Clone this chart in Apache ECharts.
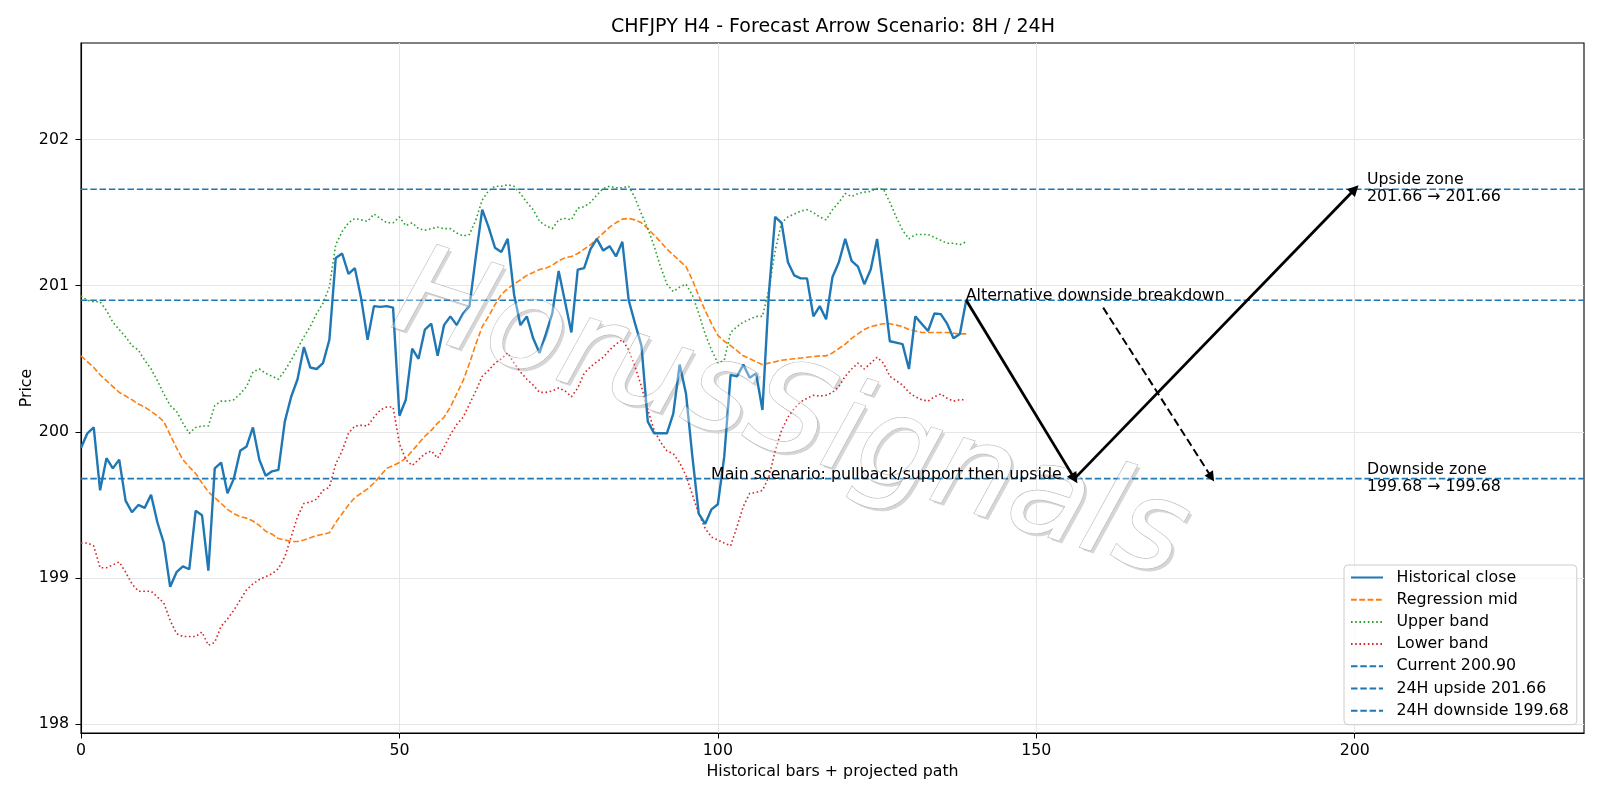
<!DOCTYPE html>
<html>
<head>
<meta charset="utf-8">
<script src="https://cdn.jsdelivr.net/npm/echarts@6/dist/echarts.min.js"></script>
<style>
  html, body { margin: 0; padding: 0; background: #fff; }
  #chartDiv { width: 1600px; height: 800px; }
</style>
</head>
<body>
<div id="chartDiv"></div>
<script>
// historical bars 0..139
var closeVals = [
	199.89, 199.99, 200.03, 199.60, 199.82, 199.75, 199.81, 199.53, 199.45, 199.50,
	199.48, 199.57, 199.38, 199.24, 198.94, 199.04, 199.08, 199.06, 199.46, 199.43,
	199.05, 199.75, 199.79, 199.58, 199.68, 199.87, 199.90, 200.03, 199.81, 199.70,
	199.73, 199.74, 200.07, 200.24, 200.36, 200.58, 200.44, 200.43, 200.47, 200.63,
	201.19, 201.22, 201.08, 201.12, 200.91, 200.63, 200.86, 200.855, 200.86, 200.85,
	200.11, 200.22, 200.57, 200.50, 200.70, 200.74, 200.52, 200.73, 200.79, 200.73,
	200.81, 200.86, 201.20, 201.52, 201.40, 201.26, 201.23, 201.32, 200.94, 200.73,
	200.79, 200.64, 200.54, 200.67, 200.81, 201.10, 200.89, 200.68, 201.11, 201.12,
	201.25, 201.32, 201.24, 201.27, 201.20, 201.30, 200.90, 200.74, 200.59, 200.07,
	199.99, 199.99, 199.99, 200.125, 200.46, 200.26, 199.83, 199.44, 199.37, 199.47,
	199.505, 199.83, 200.39, 200.38, 200.46, 200.37, 200.40, 200.15, 200.94, 201.47,
	201.43, 201.16, 201.07, 201.05, 201.05, 200.79, 200.86, 200.77, 201.06, 201.16,
	201.32, 201.17, 201.13, 201.01, 201.11, 201.32, 200.98, 200.62, 200.61, 200.60,
	200.43, 200.79, 200.74, 200.69, 200.81, 200.805, 200.74, 200.64, 200.67, 200.90
];

var midVals = [
	200.52, 200.48, 200.44, 200.39, 200.35, 200.31, 200.27, 200.245, 200.22, 200.19,
	200.17, 200.14, 200.11, 200.07, 199.98, 199.89, 199.81, 199.76, 199.715, 199.65,
	199.59, 199.55, 199.51, 199.47, 199.44, 199.42, 199.41, 199.39, 199.36, 199.32,
	199.30, 199.27, 199.26, 199.25, 199.25, 199.26, 199.275, 199.29, 199.30, 199.31,
	199.38, 199.44, 199.50, 199.55, 199.58, 199.61, 199.65, 199.70, 199.75, 199.77,
	199.79, 199.82, 199.87, 199.92, 199.97, 200.01, 200.06, 200.10, 200.17, 200.26,
	200.35, 200.47, 200.60, 200.72, 200.79, 200.87, 200.94, 200.98, 201.01, 201.04,
	201.07, 201.09, 201.11, 201.12, 201.14, 201.17, 201.19, 201.20, 201.22, 201.25,
	201.28, 201.32, 201.36, 201.40, 201.43, 201.455, 201.46, 201.45, 201.43, 201.39,
	201.345, 201.30, 201.25, 201.21, 201.17, 201.13, 201.04, 200.93, 200.83, 200.74,
	200.66, 200.62, 200.59, 200.555, 200.52, 200.50, 200.48, 200.46, 200.47, 200.48,
	200.49, 200.495, 200.50, 200.505, 200.51, 200.515, 200.52, 200.52, 200.54, 200.57,
	200.60, 200.64, 200.67, 200.70, 200.72, 200.73, 200.74, 200.74, 200.73, 200.72,
	200.70, 200.69, 200.68, 200.68, 200.68, 200.68, 200.68, 200.675, 200.67, 200.67
];

var upperVals = [
	200.93, 200.90, 200.89, 200.89, 200.83, 200.75, 200.70, 200.65, 200.59, 200.56,
	200.49, 200.43, 200.35, 200.26, 200.18, 200.14, 200.06, 199.99, 200.03, 200.04,
	200.04, 200.18, 200.21, 200.21, 200.22, 200.26, 200.31, 200.41, 200.43, 200.40,
	200.38, 200.36, 200.42, 200.49, 200.57, 200.65, 200.72, 200.81, 200.88, 200.99,
	201.28, 201.37, 201.43, 201.46, 201.45, 201.44, 201.49, 201.46, 201.43, 201.43,
	201.47, 201.41, 201.43, 201.39, 201.38, 201.39, 201.40, 201.39, 201.39, 201.36,
	201.34, 201.35, 201.45, 201.585, 201.65, 201.68, 201.68, 201.69, 201.68, 201.63,
	201.57, 201.52, 201.44, 201.41, 201.39, 201.45, 201.46, 201.45, 201.53, 201.54,
	201.57, 201.62, 201.665, 201.68, 201.67, 201.67, 201.68, 201.60, 201.49, 201.39,
	201.27, 201.13, 201.01, 200.96, 200.99, 201.01, 200.935, 200.81, 200.67, 200.56,
	200.47, 200.49, 200.68, 200.72, 200.75, 200.77, 200.79, 200.79, 200.97, 201.24,
	201.43, 201.47, 201.49, 201.51, 201.52, 201.50, 201.47, 201.45, 201.52, 201.57,
	201.63, 201.61, 201.63, 201.64, 201.645, 201.665, 201.66, 201.57, 201.47, 201.38,
	201.32, 201.35, 201.35, 201.35, 201.33, 201.31, 201.29, 201.29, 201.28, 201.30
];

var lowerVals = [
	199.24, 199.24, 199.22, 199.07, 199.07, 199.09, 199.11, 199.04, 198.96, 198.91,
	198.91, 198.91, 198.87, 198.83, 198.71, 198.62, 198.60, 198.60, 198.60, 198.63,
	198.54, 198.56, 198.67, 198.72, 198.78, 198.85, 198.92, 198.96, 198.99, 199.01,
	199.03, 199.065, 199.145, 199.28, 199.42, 199.51, 199.52, 199.54, 199.60, 199.62,
	199.78, 199.87, 199.99, 200.04, 200.045, 200.04, 200.10, 200.15, 200.17, 200.17,
	199.92, 199.81, 199.77, 199.81, 199.85, 199.87, 199.82, 199.895, 199.98, 200.05,
	200.10, 200.19, 200.28, 200.38, 200.42, 200.47, 200.50, 200.54, 200.47, 200.41,
	200.36, 200.32, 200.27, 200.27, 200.28, 200.30, 200.28, 200.24, 200.30, 200.40,
	200.445, 200.48, 200.51, 200.56, 200.60, 200.63, 200.56, 200.445, 200.31, 200.15,
	200.01, 199.93, 199.87, 199.85, 199.79, 199.70, 199.57, 199.44, 199.34, 199.28,
	199.26, 199.24, 199.22, 199.35, 199.49, 199.58, 199.585, 199.60, 199.69, 199.87,
	200.01, 200.10, 200.16, 200.205, 200.23, 200.25, 200.245, 200.25, 200.27, 200.31,
	200.38, 200.43, 200.47, 200.43, 200.47, 200.51, 200.47, 200.38, 200.35, 200.32,
	200.27, 200.24, 200.22, 200.21, 200.24, 200.26, 200.23, 200.21, 200.22, 200.22
];

// levels
var currentLevel = 200.90;
var upsideLevel = 201.66;
var downsideLevel = 199.68;

// projected path (bar index, price)
var mainPathX = [139, 156, 200];
var mainPathY = [200.90, 199.68, 201.66];
var altPathX = [160.5, 177.5];
var altPathY = [200.85, 199.69];

// annotations
var noteTexts = ['Alternative downside breakdown', 'Main scenario: pullback/support then upside',
	'Upside zone\n201.66 → 201.66', 'Downside zone\n199.68 → 199.68'];
var noteX = [139, 99, 202, 202];
var noteY = [200.90, 199.68, 201.66, 199.68];

var xTicks = [0, 50, 100, 150, 200];
var yTicks = [198, 199, 200, 201, 202];
var xMax = 236;

var FONT = 'DejaVu Sans';
var FS = 15.8;
var BLUE = '#1f77b4';

function toPairs(vals) {
	return vals.map(function(v, i) { return [i, v]; });
}
function levelLine(v) {
	return [[0, v], [xMax, v]];
}

var arrowSegs = [];
for (var k = 0; k < mainPathX.length - 1; k++) {
	arrowSegs.push({ coords: [[mainPathX[k], mainPathY[k]], [mainPathX[k + 1], mainPathY[k + 1]]] });
}

var noteData = noteTexts.map(function(t, i) {
	var multi = t.indexOf('\n') >= 0;
	return {
		value: [noteX[i], noteY[i]],
		label: {
			formatter: t,
			verticalAlign: multi ? 'middle' : 'bottom',
			offset: multi ? [0, 0] : [0, 5]
		}
	};
});

// watermark: soft shadow + outlined white letters under the lines, faint veil above
var wmText = 'HorusSignals';
var wmFont = 'italic 126px "DejaVu Sans"';
var wmX = 790, wmY = 420, wmRot = -0.31;

var chart = echarts.init(document.getElementById('chartDiv'));

var lineBase = { type: 'line', symbol: 'none', silent: true, z: 3 };

chart.setOption({
	animation: false,
	textStyle: { fontFamily: FONT },
	title: {
		text: 'CHFJPY H4 - Forecast Arrow Scenario: 8H / 24H',
		left: 828,
		textAlign: 'center',
		top: 13,
		textStyle: { fontFamily: FONT, fontSize: 19, fontWeight: 'normal', color: '#000' }
	},
	legend: {
		data: ['Historical close', 'Regression mid', 'Upper band', 'Lower band',
			'Current 200.90', '24H upside 201.66', '24H downside 199.68'],
		orient: 'vertical',
		left: 1344,
		top: 565,
		padding: [4.5, 8, 6, 6],
		itemWidth: 32,
		itemHeight: 16,
		itemGap: 6.2,
		itemStyle: { opacity: 0 },
		borderColor: '#cccccc',
		borderWidth: 1,
		borderRadius: 4,
		backgroundColor: 'rgba(255,255,255,0.8)',
		textStyle: { fontFamily: FONT, fontSize: FS, lineHeight: 16, color: '#000', padding: [0, 0, 0, 8.5] }
	},
	grid: { left: 81, right: 16, top: 43, bottom: 67, show: true, borderColor: '#000', borderWidth: 1.1 },
	xAxis: {
		type: 'value',
		min: 0,
		max: xMax,
		name: 'Historical bars + projected path',
		nameLocation: 'middle',
		nameGap: 30.5,
		nameMoveOverlap: false,
		nameTextStyle: { fontFamily: FONT, fontSize: FS, color: '#000' },
		axisLine: { show: true, lineStyle: { color: '#000', width: 1.1 } },
		axisTick: { show: true, length: 5.5, customValues: xTicks, lineStyle: { color: '#000' } },
		axisLabel: { customValues: xTicks, color: '#000', fontSize: FS, margin: 10 },
		splitLine: { show: true, lineStyle: { color: '#e6e6e6', width: 1 } }
	},
	yAxis: {
		type: 'value',
		min: 197.94,
		max: 202.66,
		name: 'Price',
		nameLocation: 'middle',
		nameGap: 46,
		nameMoveOverlap: false,
		nameTextStyle: { fontFamily: FONT, fontSize: FS, color: '#000' },
		axisLine: { show: true, lineStyle: { color: '#000', width: 1.1 } },
		axisTick: { show: true, length: 5.5, customValues: yTicks, lineStyle: { color: '#000' } },
		axisLabel: { customValues: yTicks, color: '#000', fontSize: FS, margin: 12 },
		splitLine: { show: true, lineStyle: { color: '#e6e6e6', width: 1 } }
	},
	graphic: [{
		type: 'text', x: wmX + 3, y: wmY + 3, rotation: wmRot, z: 1, silent: true,
		style: { text: wmText, font: wmFont, align: 'center', verticalAlign: 'middle', fill: '#d6d6d6' }
	}, {
		type: 'text', x: wmX, y: wmY, rotation: wmRot, z: 2, silent: true,
		style: {
			text: wmText, font: wmFont, align: 'center', verticalAlign: 'middle',
			fill: '#ffffff', stroke: '#bcbcbc', lineWidth: 1.4
		}
	}, {
		type: 'text', x: wmX, y: wmY, rotation: wmRot, z: 50, silent: true,
		style: { text: wmText, font: wmFont, align: 'center', verticalAlign: 'middle', fill: 'rgba(255,255,255,0.35)' }
	}],
	series: [
		Object.assign({}, lineBase, {
			name: 'Current 200.90', data: levelLine(currentLevel),
			lineStyle: { color: BLUE, width: 1.6, type: [6.5, 2.8] }, color: BLUE
		}),
		Object.assign({}, lineBase, {
			name: '24H upside 201.66', data: levelLine(upsideLevel),
			lineStyle: { color: BLUE, width: 1.6, type: [6.5, 2.8] }, color: BLUE
		}),
		Object.assign({}, lineBase, {
			name: '24H downside 199.68', data: levelLine(downsideLevel),
			lineStyle: { color: BLUE, width: 1.6, type: [6.5, 2.8] }, color: BLUE
		}),
		Object.assign({}, lineBase, {
			name: 'Regression mid', data: toPairs(midVals),
			lineStyle: { color: '#ff7f0e', width: 1.6, type: [5.8, 2.5] }, color: '#ff7f0e'
		}),
		Object.assign({}, lineBase, {
			name: 'Upper band', data: toPairs(upperVals),
			lineStyle: { color: '#2ca02c', width: 1.6, type: [1.6, 2.6] }, color: '#2ca02c'
		}),
		Object.assign({}, lineBase, {
			name: 'Lower band', data: toPairs(lowerVals),
			lineStyle: { color: '#d62728', width: 1.6, type: [1.6, 2.6] }, color: '#d62728'
		}),
		Object.assign({}, lineBase, {
			name: 'Historical close', data: toPairs(closeVals), z: 4,
			lineStyle: { color: BLUE, width: 2.4 }, color: BLUE
		}),
		{
			type: 'lines',
			coordinateSystem: 'cartesian2d',
			silent: true,
			z: 55,
			symbol: ['none', 'triangle'],
			symbolSize: 11,
			lineStyle: { color: '#000', width: 2.8, opacity: 1, curveness: 0 },
			data: arrowSegs
		},
		{
			type: 'lines',
			coordinateSystem: 'cartesian2d',
			silent: true,
			z: 55,
			symbol: ['none', 'triangle'],
			symbolSize: 10,
			lineStyle: { color: '#000', width: 2, type: [8, 4], opacity: 1, curveness: 0 },
			data: [{ coords: [[altPathX[0], altPathY[0]], [altPathX[1], altPathY[1]]] }]
		},
		{
			type: 'scatter',
			silent: true,
			z: 60,
			symbolSize: 1,
			itemStyle: { color: 'rgba(0,0,0,0)', opacity: 1 },
			label: {
				show: true,
				position: [0, 0],
				align: 'left',
				color: '#000',
				opacity: 1,
				fontFamily: FONT,
				fontSize: FS,
				lineHeight: 17
			},
			data: noteData
		}
	]
});
</script>
</body>
</html>
